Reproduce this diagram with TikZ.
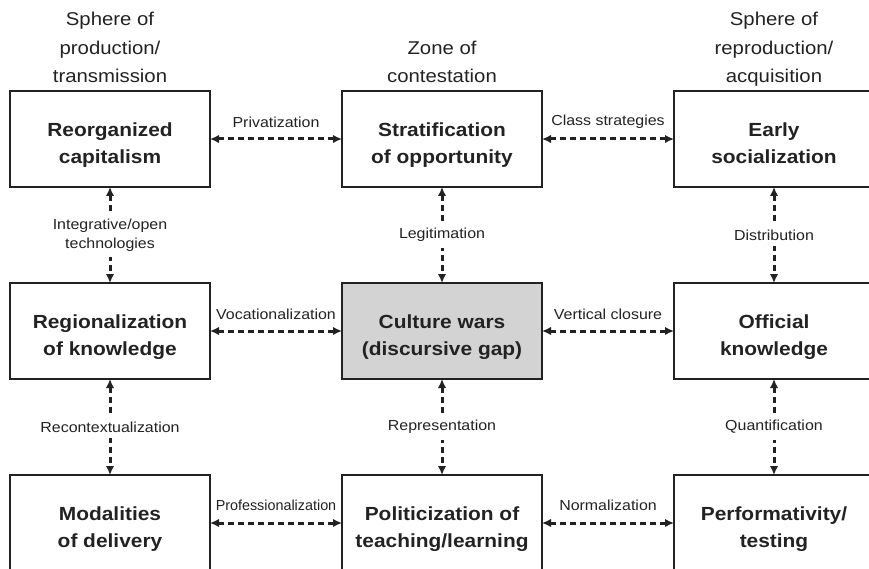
\documentclass[tikz,border=0pt]{standalone}
\usepackage{fontspec}
\setmainfont{Liberation Sans}[FakeStretch=1.1]
\usetikzlibrary{positioning, arrows.meta}
\definecolor{wargray}{RGB}{211,211,211}
\definecolor{inkgray}{RGB}{34,34,34}
\begin{document}
\begin{tikzpicture}[
  node distance = 96pt and 132pt,
  boxNode/.style     ={rectangle, draw=inkgray, line width=1.4pt, outer sep=0pt, minimum width=200pt, minimum height=96pt, text height=49pt, text depth=0pt, text centered, align=center, text=inkgray, font=\fontsize{19}{27}\selectfont\bfseries},
  coreNode/.style    ={boxNode, fill=wargray},
  headNode/.style    ={align=center, text=inkgray, inner sep=0pt, font=\fontsize{18.5}{28.5}\selectfont},
  linkLabel/.style   ={align=center, text=inkgray, font=\fontsize{14.5}{19}\selectfont},
  dashArrow/.style   ={{Latex[length=9pt,width=8.5pt]}-{Latex[length=9pt,width=8.5pt]}, line width=3pt, dash pattern=on 5.5pt off 4.5pt, inkgray}
]
\useasboundingbox (0,0) rectangle (869pt,-569pt);

% ================== TOP ROW ==================
\node[boxNode] (RC) at (110pt,-139pt) {Reorganized\\capitalism};
\node[boxNode, right=of RC] (SO) {Stratification\\of opportunity};
\node[boxNode, right=of SO] (ES) {Early\\socialization};

% column headings
\node[headNode, above=-0.5pt of RC] {Sphere of\\production/\\transmission\strut};
\node[headNode, above=-0.5pt of SO] {Zone of\\contestation\strut};
\node[headNode, above=-0.5pt of ES] {Sphere of\\reproduction/\\acquisition\strut};

% ================== MIDDLE ROW ==================
\node[boxNode, below=of RC]  (RK) {Regionalization\\of knowledge};
\node[coreNode, below=of SO] (CW) {Culture wars\\(discursive gap)};
\node[boxNode, below=of ES]  (OK) {Official\\knowledge};

% ================== BOTTOM ROW (cut by the page edge) ==================
\node[boxNode, below=of RK] (MD) {Modalities\\of delivery};
\node[boxNode, below=of CW] (PT) {Politicization of\\teaching/learning};
\node[boxNode, below=of OK] (PF) {Performativity/\\testing};

% horizontal links
\draw[dashArrow] (RC) -- (SO) node[midway, linkLabel, yshift=17pt] {Privatization};
\draw[dashArrow] (SO) -- (ES) node[midway, linkLabel, yshift=17pt] {Class strategies};
\draw[dashArrow] (RK) -- (CW) node[midway, linkLabel, yshift=17pt] {Vocationalization};
\draw[dashArrow] (CW) -- (OK) node[midway, linkLabel, yshift=17pt] {Vertical closure};
\draw[dashArrow] (MD) -- (PT) node[midway, linkLabel, yshift=18pt] {\scalebox{0.9}[1]{Professionalization}};
\draw[dashArrow] (PT) -- (PF) node[midway, linkLabel, yshift=18pt] {Normalization};

% vertical links (label sits on the line)
\draw[dashArrow] (RC) -- (RK) node[midway, linkLabel, fill=white, inner sep=6pt] {Integrative/open\\technologies};
\draw[dashArrow] (SO) -- (CW) node[midway, linkLabel, fill=white, inner sep=6pt] {Legitimation};
\draw[dashArrow] (ES) -- (OK) node[midway, linkLabel, fill=white, inner sep=6pt] {Distribution};
\draw[dashArrow] (RK) -- (MD) node[midway, linkLabel, fill=white, inner sep=6pt] {Recontextualization};
\draw[dashArrow] (CW) -- (PT) node[midway, linkLabel, fill=white, inner sep=6pt] {Representation};
\draw[dashArrow] (OK) -- (PF) node[midway, linkLabel, fill=white, inner sep=6pt] {Quantification};

\end{tikzpicture}
\end{document}
